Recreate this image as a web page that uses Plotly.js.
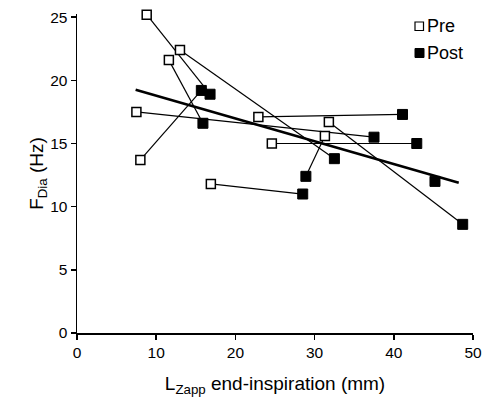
<!DOCTYPE html>
<html>
<head>
<meta charset="utf-8">
<script src="https://cdn.plot.ly/plotly-3.0.1.min.js"></script>
<style>html,body{margin:0;padding:0;background:#fff;}#chart{width:484px;height:407px;}</style>
</head>
<body>
<div id="chart"></div>
<script>
// Paired subjects: Pre -> Post
const preX  = [8.8, 13.0, 11.6, 7.5, 8.0, 16.9, 22.9, 24.6, 31.8, 31.3];
const preY  = [25.2, 22.4, 21.6, 17.5, 13.7, 11.8, 17.1, 15.0, 16.7, 15.6];
const postX = [16.8, 32.5, 15.9, 37.5, 15.7, 28.5, 41.1, 42.9, 48.7, 28.9, 45.2];
const postY = [18.9, 13.8, 16.6, 15.5, 19.2, 11.0, 17.3, 15.0, 8.6, 12.4, 12.0];
// Regression line endpoints
const fitX = [7.4, 48.2];
const fitY = [19.25, 11.9];

const xTicks = [0, 10, 20, 30, 40, 50];
const yTicks = [0, 5, 10, 15, 20, 25];
const legendLabels = ['Pre', 'Post'];

const traces = [];
for (let i = 0; i < preX.length; i++) {
  traces.push({
    x: [preX[i], postX[i]], y: [preY[i], postY[i]],
    mode: 'lines', line: {color: '#000', width: 1.2},
    showlegend: false, hoverinfo: 'skip', cliponaxis: false
  });
}
traces.push({
  x: fitX, y: fitY, mode: 'lines',
  line: {color: '#000', width: 2.6}, showlegend: false, hoverinfo: 'skip'
});
traces.push({
  x: preX, y: preY, mode: 'markers', name: legendLabels[0], cliponaxis: false,
  marker: {symbol: 'square', size: 9, color: '#fff', line: {color: '#000', width: 1.5}}
});
traces.push({
  x: postX, y: postY, mode: 'markers', name: legendLabels[1], cliponaxis: false,
  marker: {symbol: 'square', size: 10, color: '#000', line: {color: '#000', width: 1}}
});

// legend drawn manually (paper coordinates)
const L = 77, T = 14, W = 396, H = 319;
const px = v => (v - L) / W;
const py = v => (T + H - v) / H;

const layout = {
  width: 484, height: 407,
  margin: {l: 77, r: 11, t: 14, b: 74},
  paper_bgcolor: '#fff', plot_bgcolor: '#fff',
  font: {family: 'Liberation Sans, Arial, sans-serif', color: '#000', size: 15},
  xaxis: {
    range: [0, 50], tickvals: xTicks, ticktext: xTicks.map(String),
    showgrid: false, zeroline: false, showline: true, linecolor: '#000', linewidth: 1.5,
    ticks: 'outside', ticklen: 5, tickwidth: 1.5, tickcolor: '#000',
    tickfont: {size: 15.5},
    title: {text: 'L<sub>Zapp</sub> end-inspiration (mm)', font: {size: 19}, standoff: 16}
  },
  yaxis: {
    range: [0, 25.25], tickvals: yTicks, ticktext: yTicks.map(String),
    showgrid: false, zeroline: false, showline: true, linecolor: '#000', linewidth: 1.5,
    ticks: 'outside', ticklen: 5, tickwidth: 1.5, tickcolor: '#000',
    tickfont: {size: 15.5},
    title: {text: 'F<sub>Dia</sub> (Hz)', font: {size: 19}, standoff: 1}
  },
  showlegend: false,
  shapes: [
    {type: 'rect', xref: 'paper', yref: 'paper', x0: px(415), x1: px(423.5), y0: py(30.5), y1: py(22),
     line: {color: '#000', width: 1.2}, fillcolor: '#fff'},
    {type: 'rect', xref: 'paper', yref: 'paper', x0: px(415), x1: px(424), y0: py(57.5), y1: py(48.5),
     line: {color: '#000', width: 1}, fillcolor: '#000'}
  ],
  annotations: [
    {xref: 'paper', yref: 'paper', x: px(425), y: py(26), xanchor: 'left', yanchor: 'middle',
     text: legendLabels[0], showarrow: false, font: {size: 18}},
    {xref: 'paper', yref: 'paper', x: px(425), y: py(53), xanchor: 'left', yanchor: 'middle',
     text: legendLabels[1], showarrow: false, font: {size: 18}}
  ]
};

Plotly.newPlot('chart', traces, layout, {displayModeBar: false, staticPlot: true});
</script>
</body>
</html>
